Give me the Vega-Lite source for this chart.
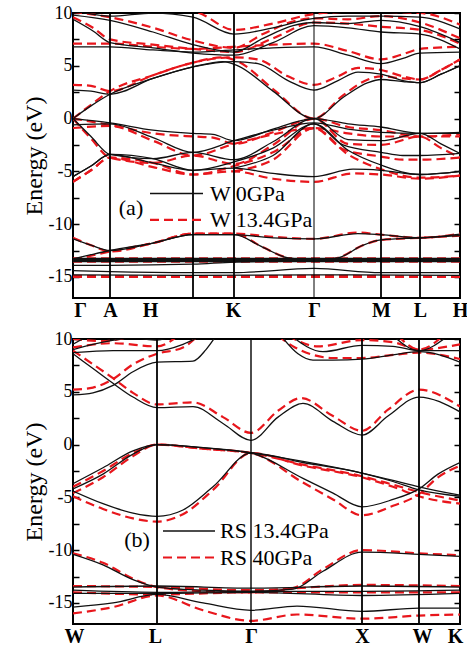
{
"$schema":"https://vega.github.io/schema/vega-lite/v6.json",
"padding":{"left":21,"top":3,"right":4,"bottom":0},
"spacing":8,
"config":{"view":{"stroke":"black","strokeWidth":2},"font":"Liberation Serif, Times New Roman, serif","axis":{"labelFont":"Liberation Serif, Times New Roman, serif","titleFont":"Liberation Serif, Times New Roman, serif","labelColor":"black","titleColor":"black","tickColor":"black"},"text":{"font":"Liberation Serif, Times New Roman, serif"}},
"datasets":{
"ab":[
{"band":"C1","k":0,"E":0},{"band":"C1","k":18,"E":1.2},{"band":"C1","k":37,"E":2.3},{"band":"C1","k":80,"E":3.8},{"band":"C1","k":120,"E":4.9},{"band":"C1","k":150,"E":5.4},{"band":"C1","k":165,"E":5.0},{"band":"C1","k":200,"E":2.6},{"band":"C1","k":241,"E":0},{"band":"C1","k":270,"E":2.0},{"band":"C1","k":295,"E":3.4},{"band":"C1","k":308,"E":3.7},{"band":"C1","k":330,"E":3.5},{"band":"C1","k":347,"E":3.4},{"band":"C1","k":368,"E":4.2},{"band":"C1","k":387,"E":5.0},
{"band":"C2","k":0,"E":2.7},{"band":"C2","k":18,"E":2.6},{"band":"C2","k":37,"E":2.3},{"band":"C2","k":80,"E":3.8},{"band":"C2","k":120,"E":4.9},{"band":"C2","k":161,"E":5.4},{"band":"C2","k":185,"E":5.2},{"band":"C2","k":215,"E":3.6},{"band":"C2","k":241,"E":2.7},{"band":"C2","k":265,"E":3.6},{"band":"C2","k":285,"E":4.4},{"band":"C2","k":308,"E":4.2},{"band":"C2","k":330,"E":3.6},{"band":"C2","k":347,"E":3.4},{"band":"C2","k":368,"E":4.2},{"band":"C2","k":387,"E":5.0},
{"band":"C3","k":0,"E":6.8},{"band":"C3","k":37,"E":6.8},{"band":"C3","k":80,"E":6.5},{"band":"C3","k":120,"E":6.3},{"band":"C3","k":161,"E":6.5},{"band":"C3","k":200,"E":6.7},{"band":"C3","k":241,"E":6.8},{"band":"C3","k":275,"E":6.0},{"band":"C3","k":308,"E":5.2},{"band":"C3","k":330,"E":5.7},{"band":"C3","k":347,"E":6.2},{"band":"C3","k":387,"E":6.3},
{"band":"C4","k":0,"E":9.4},{"band":"C4","k":20,"E":8.3},{"band":"C4","k":37,"E":7.2},{"band":"C4","k":80,"E":6.7},{"band":"C4","k":120,"E":6.2},{"band":"C4","k":161,"E":6.0},{"band":"C4","k":200,"E":7.2},{"band":"C4","k":241,"E":8.8},{"band":"C4","k":275,"E":8.6},{"band":"C4","k":308,"E":8.2},{"band":"C4","k":347,"E":8.0},{"band":"C4","k":387,"E":6.6},
{"band":"C5","k":0,"E":9.8},{"band":"C5","k":37,"E":9.3},{"band":"C5","k":80,"E":8.2},{"band":"C5","k":120,"E":7.0},{"band":"C5","k":161,"E":6.3},{"band":"C5","k":190,"E":7.6},{"band":"C5","k":220,"E":8.8},{"band":"C5","k":241,"E":9.1},{"band":"C5","k":275,"E":9.0},{"band":"C5","k":308,"E":9.3},{"band":"C5","k":347,"E":8.7},{"band":"C5","k":387,"E":7.2},
{"band":"C6","k":0,"E":10.3},{"band":"C6","k":37,"E":9.7},{"band":"C6","k":80,"E":10.0},{"band":"C6","k":120,"E":9.6},{"band":"C6","k":161,"E":8.0},{"band":"C6","k":200,"E":8.6},{"band":"C6","k":241,"E":9.5},{"band":"C6","k":275,"E":9.7},{"band":"C6","k":308,"E":9.7},{"band":"C6","k":347,"E":9.6},{"band":"C6","k":387,"E":8.5},
{"band":"V1","k":0,"E":0},{"band":"V1","k":37,"E":-0.4},{"band":"V1","k":80,"E":-1.1},{"band":"V1","k":120,"E":-1.4},{"band":"V1","k":140,"E":-1.5},{"band":"V1","k":161,"E":-2.1},{"band":"V1","k":200,"E":-1.0},{"band":"V1","k":241,"E":0},{"band":"V1","k":275,"E":-0.5},{"band":"V1","k":308,"E":-0.8},{"band":"V1","k":347,"E":-1.4},{"band":"V1","k":387,"E":-1.3},
{"band":"V2","k":0,"E":-0.6},{"band":"V2","k":37,"E":-0.5},{"band":"V2","k":80,"E":-1.8},{"band":"V2","k":120,"E":-3.2},{"band":"V2","k":161,"E":-2.1},{"band":"V2","k":200,"E":-1.1},{"band":"V2","k":241,"E":-0.4},{"band":"V2","k":275,"E":-1.0},{"band":"V2","k":308,"E":-1.3},{"band":"V2","k":347,"E":-1.4},{"band":"V2","k":387,"E":-1.4},
{"band":"V3","k":0,"E":0},{"band":"V3","k":18,"E":-1.7},{"band":"V3","k":37,"E":-3.4},{"band":"V3","k":80,"E":-3.8},{"band":"V3","k":120,"E":-3.2},{"band":"V3","k":161,"E":-3.9},{"band":"V3","k":200,"E":-2.2},{"band":"V3","k":241,"E":0},{"band":"V3","k":275,"E":-2.0},{"band":"V3","k":308,"E":-2.1},{"band":"V3","k":347,"E":-1.4},{"band":"V3","k":368,"E":-2.4},{"band":"V3","k":387,"E":-3.3},
{"band":"V4","k":0,"E":-5.5},{"band":"V4","k":18,"E":-4.5},{"band":"V4","k":37,"E":-3.4},{"band":"V4","k":80,"E":-4.2},{"band":"V4","k":120,"E":-4.9},{"band":"V4","k":161,"E":-4.1},{"band":"V4","k":200,"E":-2.8},{"band":"V4","k":241,"E":-0.5},{"band":"V4","k":270,"E":-2.5},{"band":"V4","k":308,"E":-3.2},{"band":"V4","k":330,"E":-3.5},{"band":"V4","k":347,"E":-3.5},{"band":"V4","k":387,"E":-3.3},
{"band":"V5","k":0,"E":-5.5},{"band":"V5","k":18,"E":-4.5},{"band":"V5","k":37,"E":-3.4},{"band":"V5","k":80,"E":-3.8},{"band":"V5","k":120,"E":-4.9},{"band":"V5","k":161,"E":-4.7},{"band":"V5","k":200,"E":-5.2},{"band":"V5","k":241,"E":-5.5},{"band":"V5","k":280,"E":-4.8},{"band":"V5","k":308,"E":-4.9},{"band":"V5","k":347,"E":-5.3},{"band":"V5","k":387,"E":-5.0},
{"band":"V6","k":161,"E":-4.7},{"band":"V6","k":200,"E":-3.5},{"band":"V6","k":241,"E":-0.5},{"band":"V6","k":275,"E":-3.0},{"band":"V6","k":308,"E":-4.4},{"band":"V6","k":347,"E":-5.3},{"band":"V6","k":387,"E":-5.0},
{"band":"L1","k":0,"E":-11.4},{"band":"L1","k":18,"E":-12.0},{"band":"L1","k":37,"E":-12.5},{"band":"L1","k":80,"E":-11.8},{"band":"L1","k":120,"E":-11.0},{"band":"L1","k":161,"E":-11.0},{"band":"L1","k":200,"E":-11.3},{"band":"L1","k":241,"E":-11.4},{"band":"L1","k":285,"E":-10.9},{"band":"L1","k":308,"E":-11.0},{"band":"L1","k":347,"E":-11.3},{"band":"L1","k":387,"E":-10.95},
{"band":"L2","k":0,"E":-13.3},{"band":"L2","k":18,"E":-12.9},{"band":"L2","k":37,"E":-12.5},{"band":"L2","k":80,"E":-11.8},{"band":"L2","k":120,"E":-11.0},{"band":"L2","k":161,"E":-11.0},{"band":"L2","k":190,"E":-12.2},{"band":"L2","k":215,"E":-13.2},{"band":"L2","k":241,"E":-13.4},{"band":"L2","k":265,"E":-13.2},{"band":"L2","k":290,"E":-12.0},{"band":"L2","k":308,"E":-11.5},{"band":"L2","k":347,"E":-11.3},{"band":"L2","k":387,"E":-11.1},
{"band":"D1","k":0,"E":-13.25},{"band":"D1","k":387,"E":-13.25},
{"band":"D2","k":0,"E":-13.35},{"band":"D2","k":387,"E":-13.35},
{"band":"D3","k":0,"E":-13.45},{"band":"D3","k":387,"E":-13.45},
{"band":"D3b","k":0,"E":-13.55},{"band":"D3b","k":387,"E":-13.55},
{"band":"D4","k":0,"E":-13.9},{"band":"D4","k":37,"E":-13.9},{"band":"D4","k":120,"E":-13.8},{"band":"D4","k":161,"E":-13.6},{"band":"D4","k":241,"E":-13.5},{"band":"D4","k":387,"E":-13.5},
{"band":"D5","k":0,"E":-14.4},{"band":"D5","k":37,"E":-14.5},{"band":"D5","k":120,"E":-14.6},{"band":"D5","k":161,"E":-14.6},{"band":"D5","k":241,"E":-14.2},{"band":"D5","k":308,"E":-14.6},{"band":"D5","k":387,"E":-14.6},
{"band":"D6","k":0,"E":-14.8},{"band":"D6","k":120,"E":-14.85},{"band":"D6","k":241,"E":-14.8},{"band":"D6","k":387,"E":-14.85}
],
"ar":[
{"band":"C1","k":0,"E":0},{"band":"C1","k":18,"E":1.3},{"band":"C1","k":37,"E":2.6},{"band":"C1","k":80,"E":4.1},{"band":"C1","k":120,"E":5.3},{"band":"C1","k":150,"E":5.8},{"band":"C1","k":165,"E":5.4},{"band":"C1","k":200,"E":2.8},{"band":"C1","k":241,"E":0},{"band":"C1","k":270,"E":2.2},{"band":"C1","k":295,"E":3.7},{"band":"C1","k":308,"E":4.0},{"band":"C1","k":330,"E":3.8},{"band":"C1","k":347,"E":3.7},{"band":"C1","k":368,"E":4.6},{"band":"C1","k":387,"E":5.6},
{"band":"C2","k":0,"E":3.2},{"band":"C2","k":18,"E":3.1},{"band":"C2","k":37,"E":2.6},{"band":"C2","k":80,"E":4.1},{"band":"C2","k":120,"E":5.3},{"band":"C2","k":161,"E":5.8},{"band":"C2","k":185,"E":5.6},{"band":"C2","k":215,"E":4.0},{"band":"C2","k":241,"E":3.2},{"band":"C2","k":265,"E":4.0},{"band":"C2","k":285,"E":4.8},{"band":"C2","k":308,"E":4.6},{"band":"C2","k":330,"E":4.0},{"band":"C2","k":347,"E":3.7},{"band":"C2","k":368,"E":4.6},{"band":"C2","k":387,"E":5.6},
{"band":"C3","k":0,"E":7.1},{"band":"C3","k":37,"E":7.1},{"band":"C3","k":80,"E":6.8},{"band":"C3","k":120,"E":6.6},{"band":"C3","k":161,"E":6.8},{"band":"C3","k":200,"E":7.0},{"band":"C3","k":241,"E":7.1},{"band":"C3","k":275,"E":6.4},{"band":"C3","k":308,"E":5.6},{"band":"C3","k":330,"E":6.1},{"band":"C3","k":347,"E":6.6},{"band":"C3","k":387,"E":6.8},
{"band":"C4","k":0,"E":9.6},{"band":"C4","k":20,"E":8.6},{"band":"C4","k":37,"E":7.5},{"band":"C4","k":80,"E":7.0},{"band":"C4","k":120,"E":6.6},{"band":"C4","k":161,"E":6.3},{"band":"C4","k":200,"E":7.6},{"band":"C4","k":241,"E":9.1},{"band":"C4","k":275,"E":9.0},{"band":"C4","k":308,"E":8.7},{"band":"C4","k":347,"E":8.4},{"band":"C4","k":387,"E":7.1},
{"band":"C5","k":0,"E":10.1},{"band":"C5","k":37,"E":9.6},{"band":"C5","k":80,"E":8.6},{"band":"C5","k":120,"E":7.4},{"band":"C5","k":161,"E":6.7},{"band":"C5","k":190,"E":8.0},{"band":"C5","k":220,"E":9.2},{"band":"C5","k":241,"E":9.5},{"band":"C5","k":275,"E":9.4},{"band":"C5","k":308,"E":9.7},{"band":"C5","k":347,"E":9.1},{"band":"C5","k":387,"E":7.6},
{"band":"C6","k":0,"E":10.6},{"band":"C6","k":37,"E":10.1},{"band":"C6","k":120,"E":10.1},{"band":"C6","k":161,"E":8.4},{"band":"C6","k":200,"E":9.0},{"band":"C6","k":241,"E":9.9},{"band":"C6","k":275,"E":10.1},{"band":"C6","k":308,"E":10.1},{"band":"C6","k":347,"E":10.0},{"band":"C6","k":387,"E":8.9},
{"band":"V1","k":0,"E":0},{"band":"V1","k":37,"E":-0.6},{"band":"V1","k":80,"E":-1.4},{"band":"V1","k":120,"E":-1.7},{"band":"V1","k":140,"E":-1.8},{"band":"V1","k":161,"E":-2.4},{"band":"V1","k":200,"E":-1.3},{"band":"V1","k":241,"E":0},{"band":"V1","k":275,"E":-0.8},{"band":"V1","k":308,"E":-1.1},{"band":"V1","k":347,"E":-1.7},{"band":"V1","k":387,"E":-1.5},
{"band":"V2","k":0,"E":-0.9},{"band":"V2","k":37,"E":-0.7},{"band":"V2","k":80,"E":-2.1},{"band":"V2","k":120,"E":-3.5},{"band":"V2","k":161,"E":-2.4},{"band":"V2","k":200,"E":-1.5},{"band":"V2","k":241,"E":-0.9},{"band":"V2","k":275,"E":-1.4},{"band":"V2","k":308,"E":-1.7},{"band":"V2","k":347,"E":-1.7},{"band":"V2","k":387,"E":-1.7},
{"band":"V3","k":0,"E":0},{"band":"V3","k":18,"E":-1.9},{"band":"V3","k":37,"E":-3.7},{"band":"V3","k":80,"E":-4.2},{"band":"V3","k":120,"E":-3.5},{"band":"V3","k":161,"E":-4.3},{"band":"V3","k":200,"E":-2.5},{"band":"V3","k":241,"E":0},{"band":"V3","k":275,"E":-2.4},{"band":"V3","k":308,"E":-2.5},{"band":"V3","k":347,"E":-1.7},{"band":"V3","k":368,"E":-2.8},{"band":"V3","k":387,"E":-3.7},
{"band":"V4","k":0,"E":-6.0},{"band":"V4","k":18,"E":-4.9},{"band":"V4","k":37,"E":-3.7},{"band":"V4","k":80,"E":-4.6},{"band":"V4","k":120,"E":-5.3},{"band":"V4","k":161,"E":-4.5},{"band":"V4","k":200,"E":-3.2},{"band":"V4","k":241,"E":-0.9},{"band":"V4","k":270,"E":-2.9},{"band":"V4","k":308,"E":-3.6},{"band":"V4","k":330,"E":-3.9},{"band":"V4","k":347,"E":-3.9},{"band":"V4","k":387,"E":-3.7},
{"band":"V5","k":0,"E":-6.0},{"band":"V5","k":18,"E":-4.9},{"band":"V5","k":37,"E":-3.7},{"band":"V5","k":80,"E":-4.2},{"band":"V5","k":120,"E":-5.3},{"band":"V5","k":161,"E":-5.0},{"band":"V5","k":200,"E":-5.7},{"band":"V5","k":241,"E":-6.0},{"band":"V5","k":280,"E":-5.2},{"band":"V5","k":308,"E":-5.3},{"band":"V5","k":347,"E":-5.7},{"band":"V5","k":387,"E":-5.4},
{"band":"V6","k":161,"E":-5.0},{"band":"V6","k":200,"E":-3.9},{"band":"V6","k":241,"E":-0.9},{"band":"V6","k":275,"E":-3.4},{"band":"V6","k":308,"E":-4.8},{"band":"V6","k":347,"E":-5.6},{"band":"V6","k":387,"E":-5.4},
{"band":"L1","k":0,"E":-11.3},{"band":"L1","k":18,"E":-12.0},{"band":"L1","k":37,"E":-12.6},{"band":"L1","k":80,"E":-11.8},{"band":"L1","k":120,"E":-10.9},{"band":"L1","k":161,"E":-10.9},{"band":"L1","k":200,"E":-11.2},{"band":"L1","k":241,"E":-11.4},{"band":"L1","k":285,"E":-10.8},{"band":"L1","k":308,"E":-11.0},{"band":"L1","k":347,"E":-11.3},{"band":"L1","k":387,"E":-10.9},
{"band":"L2","k":0,"E":-13.4},{"band":"L2","k":18,"E":-13.0},{"band":"L2","k":37,"E":-12.6},{"band":"L2","k":80,"E":-11.8},{"band":"L2","k":120,"E":-10.9},{"band":"L2","k":161,"E":-10.9},{"band":"L2","k":190,"E":-12.2},{"band":"L2","k":215,"E":-13.2},{"band":"L2","k":241,"E":-13.5},{"band":"L2","k":265,"E":-13.2},{"band":"L2","k":290,"E":-12.0},{"band":"L2","k":308,"E":-11.5},{"band":"L2","k":347,"E":-11.3},{"band":"L2","k":387,"E":-11.1},
{"band":"D1","k":0,"E":-13.25},{"band":"D1","k":387,"E":-13.25},
{"band":"D2","k":0,"E":-13.4},{"band":"D2","k":387,"E":-13.4},
{"band":"D2b","k":0,"E":-13.55},{"band":"D2b","k":387,"E":-13.55},
{"band":"D3","k":0,"E":-15.0},{"band":"D3","k":387,"E":-15.0},
{"band":"D4","k":0,"E":-14.9},{"band":"D4","k":120,"E":-15.0},{"band":"D4","k":241,"E":-14.9},{"band":"D4","k":387,"E":-15.0}
],
"bb":[
{"band":"C1","k":0,"E":4.7},{"band":"C1","k":20,"E":4.9},{"band":"C1","k":40,"E":5.6},{"band":"C1","k":60,"E":6.9},{"band":"C1","k":84,"E":7.8},{"band":"C1","k":120,"E":7.9},{"band":"C1","k":133,"E":9.0},{"band":"C1","k":143,"E":10.3},
{"band":"C2","k":0,"E":8.6},{"band":"C2","k":20,"E":7.2},{"band":"C2","k":40,"E":5.8},{"band":"C2","k":60,"E":4.5},{"band":"C2","k":84,"E":3.5},{"band":"C2","k":120,"E":3.6},{"band":"C2","k":150,"E":2.0},{"band":"C2","k":178,"E":0.4},{"band":"C2","k":205,"E":2.6},{"band":"C2","k":230,"E":3.9},{"band":"C2","k":260,"E":2.2},{"band":"C2","k":289,"E":0.9},{"band":"C2","k":315,"E":2.7},{"band":"C2","k":346,"E":4.5},{"band":"C2","k":387,"E":3.1},
{"band":"C3","k":0,"E":8.7},{"band":"C3","k":40,"E":8.9},{"band":"C3","k":84,"E":8.9},{"band":"C3","k":110,"E":9.5},{"band":"C3","k":128,"E":10.3},
{"band":"C4","k":0,"E":9.0},{"band":"C4","k":30,"E":9.7},{"band":"C4","k":60,"E":10.1},{"band":"C4","k":84,"E":9.9},{"band":"C4","k":100,"E":10.3},
{"band":"C5","k":0,"E":9.5},{"band":"C5","k":15,"E":10.3},
{"band":"C6","k":208,"E":10.3},{"band":"C6","k":225,"E":8.6},{"band":"C6","k":240,"E":8.0},{"band":"C6","k":260,"E":8.0},{"band":"C6","k":289,"E":8.1},{"band":"C6","k":320,"E":8.5},{"band":"C6","k":346,"E":8.8},{"band":"C6","k":387,"E":7.8},
{"band":"C7","k":218,"E":10.3},{"band":"C7","k":250,"E":8.8},{"band":"C7","k":289,"E":9.4},{"band":"C7","k":320,"E":9.3},{"band":"C7","k":346,"E":8.9},{"band":"C7","k":387,"E":8.9},
{"band":"C8","k":320,"E":10.3},{"band":"C8","k":346,"E":8.9},{"band":"C8","k":375,"E":10.3},
{"band":"V1","k":0,"E":-3.7},{"band":"V1","k":30,"E":-2.2},{"band":"V1","k":60,"E":-0.6},{"band":"V1","k":84,"E":0},{"band":"V1","k":130,"E":-0.3},{"band":"V1","k":178,"E":-0.8},{"band":"V1","k":230,"E":-1.6},{"band":"V1","k":289,"E":-2.7},{"band":"V1","k":320,"E":-3.4},{"band":"V1","k":346,"E":-4.0},{"band":"V1","k":387,"E":-4.8},
{"band":"V2","k":0,"E":-4.2},{"band":"V2","k":30,"E":-2.8},{"band":"V2","k":60,"E":-0.9},{"band":"V2","k":84,"E":0},{"band":"V2","k":130,"E":-0.3},{"band":"V2","k":178,"E":-0.8},{"band":"V2","k":230,"E":-3.2},{"band":"V2","k":260,"E":-4.6},{"band":"V2","k":289,"E":-5.9},{"band":"V2","k":320,"E":-5.2},{"band":"V2","k":346,"E":-4.2},{"band":"V2","k":365,"E":-2.8},{"band":"V2","k":387,"E":-1.7},
{"band":"V3","k":0,"E":-4.4},{"band":"V3","k":30,"E":-5.6},{"band":"V3","k":60,"E":-6.5},{"band":"V3","k":84,"E":-6.8},{"band":"V3","k":110,"E":-6.2},{"band":"V3","k":140,"E":-4.0},{"band":"V3","k":178,"E":-0.8},{"band":"V3","k":230,"E":-1.7},{"band":"V3","k":289,"E":-2.7},{"band":"V3","k":320,"E":-3.5},{"band":"V3","k":346,"E":-4.3},{"band":"V3","k":387,"E":-4.9},
{"band":"L1","k":0,"E":-10.4},{"band":"L1","k":30,"E":-11.4},{"band":"L1","k":60,"E":-12.8},{"band":"L1","k":84,"E":-13.5},{"band":"L1","k":130,"E":-13.8},{"band":"L1","k":178,"E":-13.9},{"band":"L1","k":220,"E":-13.7},{"band":"L1","k":250,"E":-12.0},{"band":"L1","k":289,"E":-10.2},{"band":"L1","k":346,"E":-10.4},{"band":"L1","k":387,"E":-10.6},
{"band":"L2","k":0,"E":-13.5},{"band":"L2","k":84,"E":-13.4},{"band":"L2","k":178,"E":-13.6},{"band":"L2","k":289,"E":-13.4},{"band":"L2","k":387,"E":-13.5},
{"band":"L3","k":0,"E":-13.8},{"band":"L3","k":84,"E":-14.0},{"band":"L3","k":178,"E":-13.9},{"band":"L3","k":289,"E":-13.9},{"band":"L3","k":387,"E":-13.8},
{"band":"L4","k":0,"E":-14.1},{"band":"L4","k":84,"E":-14.1},{"band":"L4","k":178,"E":-14.0},{"band":"L4","k":289,"E":-14.3},{"band":"L4","k":387,"E":-14.1},
{"band":"L5","k":0,"E":-15.4},{"band":"L5","k":40,"E":-15.0},{"band":"L5","k":84,"E":-14.2},{"band":"L5","k":130,"E":-15.0},{"band":"L5","k":178,"E":-15.7},{"band":"L5","k":224,"E":-15.3},{"band":"L5","k":289,"E":-15.8},{"band":"L5","k":346,"E":-15.5},{"band":"L5","k":387,"E":-15.5}
],
"br":[
{"band":"C1","k":0,"E":5.2},{"band":"C1","k":20,"E":5.4},{"band":"C1","k":40,"E":6.2},{"band":"C1","k":60,"E":7.6},{"band":"C1","k":84,"E":8.6},{"band":"C1","k":110,"E":9.2},{"band":"C1","k":125,"E":10.3},
{"band":"C2","k":0,"E":8.9},{"band":"C2","k":20,"E":7.6},{"band":"C2","k":40,"E":6.3},{"band":"C2","k":60,"E":4.9},{"band":"C2","k":84,"E":3.8},{"band":"C2","k":120,"E":4.0},{"band":"C2","k":150,"E":2.6},{"band":"C2","k":178,"E":1.1},{"band":"C2","k":205,"E":3.2},{"band":"C2","k":228,"E":4.4},{"band":"C2","k":260,"E":2.7},{"band":"C2","k":289,"E":1.3},{"band":"C2","k":315,"E":3.3},{"band":"C2","k":346,"E":5.2},{"band":"C2","k":387,"E":3.6},
{"band":"C3","k":0,"E":9.2},{"band":"C3","k":40,"E":9.6},{"band":"C3","k":84,"E":9.3},{"band":"C3","k":105,"E":10.3},
{"band":"C4","k":0,"E":10.0},{"band":"C4","k":30,"E":9.8},{"band":"C4","k":60,"E":10.3},
{"band":"C6","k":205,"E":10.3},{"band":"C6","k":222,"E":9.2},{"band":"C6","k":240,"E":8.5},{"band":"C6","k":260,"E":8.2},{"band":"C6","k":289,"E":8.2},{"band":"C6","k":320,"E":8.5},{"band":"C6","k":346,"E":8.7},{"band":"C6","k":387,"E":8.1},
{"band":"C7","k":215,"E":10.3},{"band":"C7","k":245,"E":9.3},{"band":"C7","k":289,"E":9.9},{"band":"C7","k":320,"E":9.7},{"band":"C7","k":346,"E":9.0},{"band":"C7","k":387,"E":9.5},
{"band":"C8","k":325,"E":10.3},{"band":"C8","k":346,"E":9.0},{"band":"C8","k":370,"E":10.3},
{"band":"V1","k":0,"E":-4.0},{"band":"V1","k":30,"E":-2.5},{"band":"V1","k":60,"E":-0.8},{"band":"V1","k":84,"E":0},{"band":"V1","k":130,"E":-0.4},{"band":"V1","k":178,"E":-0.8},{"band":"V1","k":230,"E":-1.9},{"band":"V1","k":289,"E":-3.0},{"band":"V1","k":320,"E":-3.8},{"band":"V1","k":346,"E":-4.5},{"band":"V1","k":387,"E":-5.3},
{"band":"V2","k":0,"E":-4.6},{"band":"V2","k":30,"E":-3.1},{"band":"V2","k":60,"E":-1.1},{"band":"V2","k":84,"E":0},{"band":"V2","k":130,"E":-0.4},{"band":"V2","k":178,"E":-0.8},{"band":"V2","k":230,"E":-3.6},{"band":"V2","k":260,"E":-5.2},{"band":"V2","k":289,"E":-6.7},{"band":"V2","k":320,"E":-5.8},{"band":"V2","k":346,"E":-4.7},{"band":"V2","k":365,"E":-3.1},{"band":"V2","k":387,"E":-2.0},
{"band":"V3","k":0,"E":-4.9},{"band":"V3","k":30,"E":-6.1},{"band":"V3","k":60,"E":-7.0},{"band":"V3","k":84,"E":-7.3},{"band":"V3","k":110,"E":-6.6},{"band":"V3","k":140,"E":-4.3},{"band":"V3","k":178,"E":-0.8},{"band":"V3","k":230,"E":-2.0},{"band":"V3","k":289,"E":-3.1},{"band":"V3","k":320,"E":-4.0},{"band":"V3","k":346,"E":-4.9},{"band":"V3","k":387,"E":-5.6},
{"band":"L1","k":0,"E":-10.3},{"band":"L1","k":30,"E":-11.2},{"band":"L1","k":60,"E":-12.7},{"band":"L1","k":84,"E":-13.5},{"band":"L1","k":130,"E":-13.9},{"band":"L1","k":178,"E":-14.0},{"band":"L1","k":220,"E":-13.6},{"band":"L1","k":250,"E":-11.8},{"band":"L1","k":289,"E":-10.0},{"band":"L1","k":346,"E":-10.3},{"band":"L1","k":387,"E":-10.5},
{"band":"L2","k":0,"E":-13.4},{"band":"L2","k":84,"E":-13.5},{"band":"L2","k":178,"E":-13.8},{"band":"L2","k":289,"E":-13.3},{"band":"L2","k":387,"E":-13.4},
{"band":"L3","k":0,"E":-14.0},{"band":"L3","k":84,"E":-14.2},{"band":"L3","k":178,"E":-14.0},{"band":"L3","k":289,"E":-14.0},{"band":"L3","k":387,"E":-14.0},
{"band":"L5","k":0,"E":-16.0},{"band":"L5","k":40,"E":-15.4},{"band":"L5","k":84,"E":-14.3},{"band":"L5","k":130,"E":-15.7},{"band":"L5","k":178,"E":-16.7},{"band":"L5","k":224,"E":-16.1},{"band":"L5","k":289,"E":-16.5},{"band":"L5","k":346,"E":-16.2},{"band":"L5","k":387,"E":-16.1}
],
"va":[{"k":37},{"k":120},{"k":161},{"k":308},{"k":347}],
"vb":[{"k":84},{"k":289},{"k":346}],
"la":[{"set":"W 0GPa","k":77,"k2":130,"E":-7.1,"text":"W 0GPa"},{"set":"W 13.4GPa","k":77,"k2":130,"E":-9.6,"text":"W 13.4GPa"}],
"lb":[{"set":"RS 13.4GPa","k":90,"k2":142,"E":-8.2,"text":"RS 13.4GPa"},{"set":"RS 40GPa","k":90,"k2":142,"E":-10.7,"text":"RS 40GPa"}]
},
"vconcat":[
{"width":387,"height":285,"resolve":{"axis":{"y":"independent"}},
"layer":[
{"data":{"name":"ar"},"mark":{"type":"line","interpolate":"monotone","clip":true,"color":"#e8161c","strokeWidth":2.2,"strokeDash":[9,5]},
"encoding":{"x":{"field":"k","type":"quantitative","scale":{"domain":[0,387],"nice":false,"zero":false},
"axis":{"orient":"bottom","values":[7,37,77,160,241,308,347,387],"labelExpr":"datum.value==37?'A':datum.value==77?'H':datum.value==160?'K':datum.value==308?'M':datum.value==347?'L':datum.value==387?'H':'Γ'","ticks":false,"domain":false,"grid":false,"title":null,"labelFontSize":20,"labelFontWeight":"bold","labelFlush":false,"labelPadding":2}},
"y":{"field":"E","type":"quantitative","scale":{"domain":[-17,10],"nice":false,"zero":false},
"axis":{"orient":"left","values":[-15,-12.5,-10,-7.5,-5,-2.5,0,2.5,5,7.5,10],"labelExpr":"datum.value % 5 == 0 ? '' + datum.value : ''","tickSize":-6,"tickWidth":1.5,"domain":false,"grid":false,"title":"Energy (eV)","titleFontSize":24,"titleFontWeight":"normal","titlePadding":2,"labelFontSize":18,"labelPadding":7}},
"detail":{"field":"band"}}},
{"data":{"name":"ab"},"mark":{"type":"line","interpolate":"monotone","clip":true,"color":"#111111","strokeWidth":1.3},
"encoding":{"x":{"field":"k","type":"quantitative"},"y":{"field":"E","type":"quantitative","axis":null},"detail":{"field":"band"}}},
{"data":{"name":"va"},"mark":{"type":"rule","color":"black","strokeWidth":1.8},"encoding":{"x":{"field":"k","type":"quantitative"}}},
{"data":{"values":[{"k":241}]},"mark":{"type":"rule","color":"black","strokeWidth":1},"encoding":{"x":{"field":"k","type":"quantitative"}}},
{"mark":{"type":"rule","color":"#2a2ae0","strokeWidth":1.2,"strokeDash":[5,3]},"encoding":{"y":{"datum":0,"type":"quantitative","axis":{"orient":"right","values":[-15,-12.5,-10,-7.5,-5,-2.5,0,2.5,5,7.5,10],"labels":false,"tickSize":-6,"tickWidth":1.5,"domain":false,"grid":false,"title":null}}}},
{"data":{"name":"la"},"transform":[{"filter":"datum.set=='W 0GPa'"}],"mark":{"type":"rule","color":"#111111","strokeWidth":1.5},"encoding":{"x":{"field":"k","type":"quantitative"},"x2":{"field":"k2"},"y":{"field":"E","type":"quantitative","axis":null}}},
{"data":{"name":"la"},"transform":[{"filter":"datum.set=='W 13.4GPa'"}],"mark":{"type":"rule","color":"#e8161c","strokeWidth":2.2,"strokeDash":[9,5]},"encoding":{"x":{"field":"k","type":"quantitative"},"x2":{"field":"k2"},"y":{"field":"E","type":"quantitative","axis":null}}},
{"data":{"name":"la"},"mark":{"type":"text","align":"left","baseline":"middle","dx":7,"fontSize":22,"color":"black"},"encoding":{"x":{"field":"k2","type":"quantitative"},"y":{"field":"E","type":"quantitative","axis":null},"text":{"field":"text"}}},
{"data":{"values":[{"k":58,"E":-8.5,"text":"(a)"}]},"mark":{"type":"text","align":"center","baseline":"middle","fontSize":22,"color":"black"},"encoding":{"x":{"field":"k","type":"quantitative"},"y":{"field":"E","type":"quantitative","axis":null},"text":{"field":"text"}}}
]},
{"width":387,"height":285,"resolve":{"axis":{"y":"independent"}},
"layer":[
{"data":{"name":"br"},"mark":{"type":"line","interpolate":"monotone","clip":true,"color":"#e8161c","strokeWidth":2.2,"strokeDash":[9,5]},
"encoding":{"x":{"field":"k","type":"quantitative","scale":{"domain":[0,387],"nice":false,"zero":false},
"axis":{"orient":"bottom","values":[1,82,178,289,349,382],"labelExpr":"datum.value==82?'L':datum.value==178?'Γ':datum.value==289?'X':datum.value==382?'K':'W'","ticks":false,"domain":false,"grid":false,"title":null,"labelFontSize":20,"labelFontWeight":"bold","labelFlush":false,"labelPadding":2}},
"y":{"field":"E","type":"quantitative","scale":{"domain":[-17,10],"nice":false,"zero":false},
"axis":{"orient":"left","values":[-15,-12.5,-10,-7.5,-5,-2.5,0,2.5,5,7.5,10],"labelExpr":"datum.value % 5 == 0 ? '' + datum.value : ''","tickSize":-6,"tickWidth":1.5,"domain":false,"grid":false,"title":"Energy (eV)","titleFontSize":24,"titleFontWeight":"normal","titlePadding":2,"labelFontSize":18,"labelPadding":7}},
"detail":{"field":"band"}}},
{"data":{"name":"bb"},"mark":{"type":"line","interpolate":"monotone","clip":true,"color":"#111111","strokeWidth":1.3},
"encoding":{"x":{"field":"k","type":"quantitative"},"y":{"field":"E","type":"quantitative","axis":null},"detail":{"field":"band"}}},
{"data":{"name":"vb"},"mark":{"type":"rule","color":"black","strokeWidth":1.8},"encoding":{"x":{"field":"k","type":"quantitative"}}},
{"data":{"values":[{"k":178}]},"mark":{"type":"rule","color":"black","strokeWidth":1.4},"encoding":{"x":{"field":"k","type":"quantitative"}}},
{"mark":{"type":"rule","color":"#2a2ae0","strokeWidth":1.6,"strokeDash":[4,3]},"encoding":{"y":{"datum":0,"type":"quantitative","axis":{"orient":"right","values":[-15,-12.5,-10,-7.5,-5,-2.5,0,2.5,5,7.5,10],"labels":false,"tickSize":-6,"tickWidth":1.5,"domain":false,"grid":false,"title":null}}}},
{"data":{"name":"lb"},"transform":[{"filter":"datum.set=='RS 13.4GPa'"}],"mark":{"type":"rule","color":"#111111","strokeWidth":1.5},"encoding":{"x":{"field":"k","type":"quantitative"},"x2":{"field":"k2"},"y":{"field":"E","type":"quantitative","axis":null}}},
{"data":{"name":"lb"},"transform":[{"filter":"datum.set=='RS 40GPa'"}],"mark":{"type":"rule","color":"#e8161c","strokeWidth":2.2,"strokeDash":[9,5]},"encoding":{"x":{"field":"k","type":"quantitative"},"x2":{"field":"k2"},"y":{"field":"E","type":"quantitative","axis":null}}},
{"data":{"name":"lb"},"mark":{"type":"text","align":"left","baseline":"middle","dx":5,"fontSize":22,"color":"black"},"encoding":{"x":{"field":"k2","type":"quantitative"},"y":{"field":"E","type":"quantitative","axis":null},"text":{"field":"text"}}},
{"data":{"values":[{"k":64,"E":-9.0,"text":"(b)"}]},"mark":{"type":"text","align":"center","baseline":"middle","fontSize":22,"color":"black"},"encoding":{"x":{"field":"k","type":"quantitative"},"y":{"field":"E","type":"quantitative","axis":null},"text":{"field":"text"}}}
]}
]
}
